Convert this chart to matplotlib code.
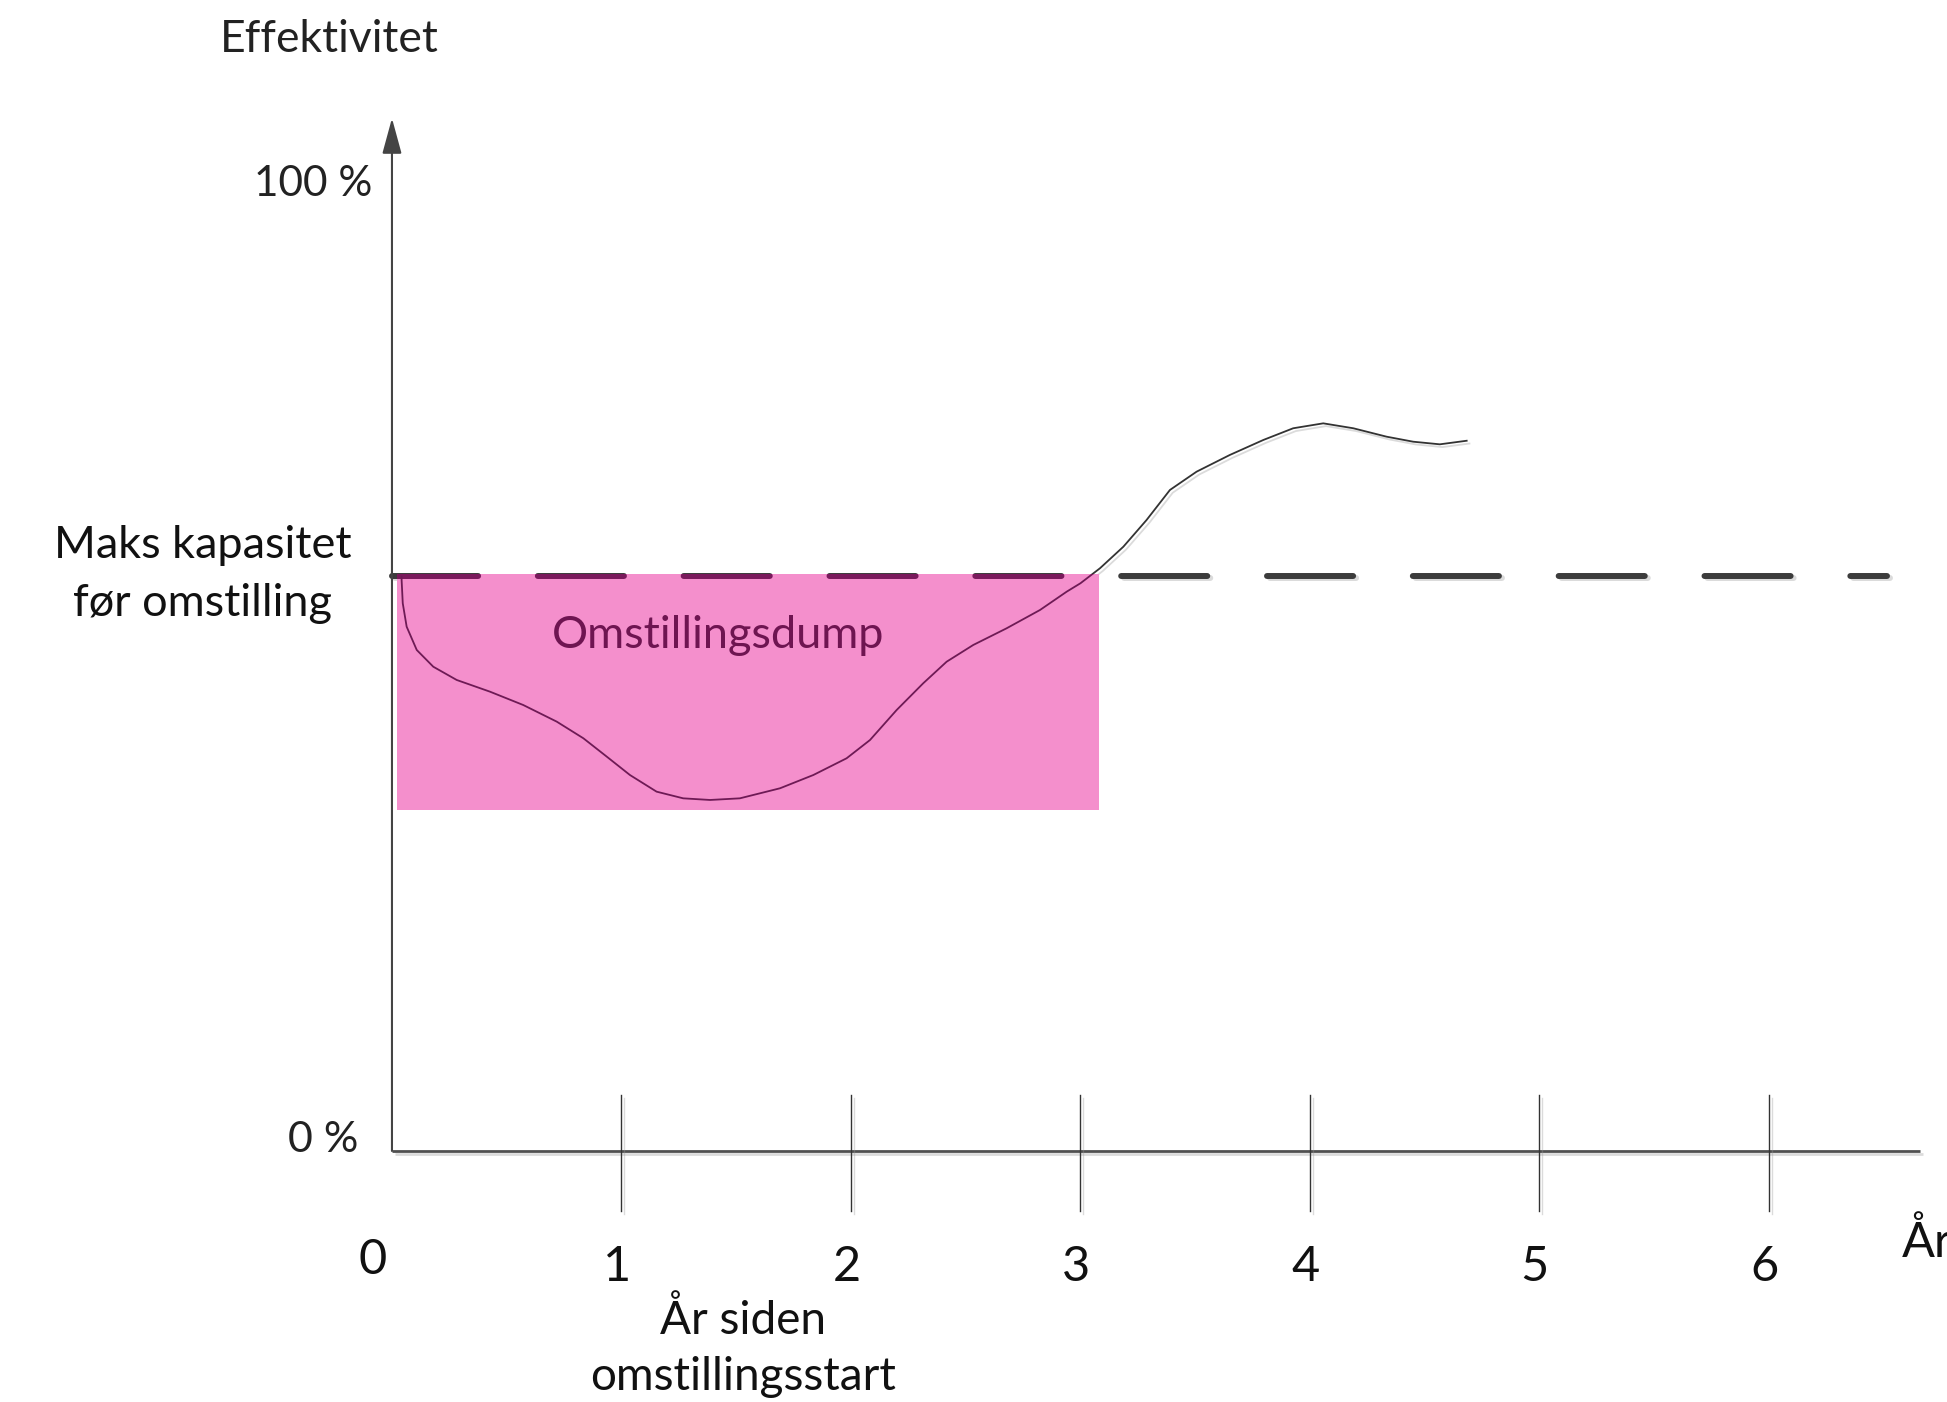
import numpy as np
import matplotlib
matplotlib.use("Agg")
import matplotlib.pyplot as plt
import matplotlib.patheffects as pe
from matplotlib.patches import Rectangle

plt.rcParams['font.family'] = ['Lato', 'DejaVu Sans']
plt.rcParams['lines.scale_dashes'] = False

# data (x = years since start, y = efficiency in %)
years = [1, 2, 3, 4, 5, 6]
year_labels = ['1', '2', '3', '4', '5', '6']
max_capacity = 59.5
dump_x = (0.02, 3.08)
dump_y = (35.3, 59.7)

curve_x = [0.042, 0.042, 0.047, 0.064, 0.108, 0.180, 0.282, 0.427, 0.572, 0.718,
           0.834, 0.936, 1.037, 1.153, 1.269, 1.386, 1.516, 1.661, 1.691, 1.836,
           1.981, 2.083, 2.199, 2.315, 2.417, 2.533, 2.678, 2.824, 2.940, 3.000,
           3.085, 3.187, 3.288, 3.390, 3.506, 3.651, 3.797, 3.927, 4.058, 4.189,
           4.334, 4.450, 4.566, 4.683]
curve_y = [59.4, 59.05, 56.64, 54.22, 51.81, 50.08, 48.71, 47.50, 46.12, 44.40,
           42.68, 40.78, 38.88, 37.16, 36.47, 36.30, 36.47, 37.33, 37.51, 38.88,
           40.61, 42.50, 45.60, 48.37, 50.60, 52.33, 54.05, 55.95, 57.84, 58.71,
           60.26, 62.49, 65.25, 68.36, 70.25, 71.98, 73.53, 74.74, 75.25, 74.74,
           73.87, 73.35, 73.08, 73.45]

fig = plt.figure(figsize=(19.47, 14.02), dpi=100)
ax = fig.add_axes([0, 0, 1, 1])
ax.set_xlim(-1.708, 6.776)
ax.set_ylim(-25.96, 119.03)
ax.axis('off')

shadow = [pe.SimpleLineShadow(offset=(2, -2), shadow_color='#999999', alpha=0.35), pe.Normal()]

# axes
ax.annotate('', xy=(0, 106.8), xytext=(0, 0),
            arrowprops=dict(arrowstyle='-|>,head_length=1.1,head_width=0.3',
                            mutation_scale=20, lw=1.5, color='#444444',
                            shrinkA=0, shrinkB=0))
ax.plot([0, 6.66], [0, 0], color='#505050', lw=2.0, solid_capstyle='butt',
        path_effects=shadow, zorder=2)
for x in years:
    ax.plot([x, x], [5.8, -6.2], color='#333333', lw=1.0, path_effects=shadow, zorder=2)

# max capacity dashed line and the curve
dash_style = (0, (62, 43))
ax.plot([0, 6.514], [max_capacity, max_capacity], color='#3c3c3c', lw=4.3,
        ls=dash_style, dash_capstyle='round', path_effects=shadow, zorder=2)
ax.plot(curve_x, curve_y, color='#333333', lw=1.3, solid_joinstyle='round',
        path_effects=shadow, zorder=2)

rect = Rectangle((dump_x[0], dump_y[0]), dump_x[1] - dump_x[0], dump_y[1] - dump_y[0],
                 facecolor='#f48fcc', edgecolor='none', zorder=3)
ax.add_patch(rect)

# same lines, tinted where they sit under the pink box
l1, = ax.plot([0, 6.514], [max_capacity, max_capacity], color='#7a1a5c', lw=4.3,
              ls=dash_style, dash_capstyle='round', zorder=4)
l2, = ax.plot(curve_x, curve_y, color='#6e1a55', lw=1.3, solid_joinstyle='round', zorder=4)
l1.set_clip_path(rect)
l2.set_clip_path(rect)

ax.text(1.42, 53.3, 'Omstillingsdump', color='#6e1551', fontsize=32.5,
        ha='center', va='center', zorder=5)

# labels
ax.text(-0.275, 114.9, 'Effektivitet', fontsize=32, color='#222222', ha='center', va='center')
ax.text(-0.087, 100, '100 %', fontsize=30.5, color='#222222', ha='right', va='center')
ax.text(-0.148, 1.1, '0 %', fontsize=31, color='#222222', ha='right', va='center')
ax.text(-0.824, 59.6, 'Maks kapasitet\nfør omstilling', fontsize=32.5, color='#111111',
        ha='center', va='center', linespacing=1.5)
ax.text(-0.085, -11.3, '0', fontsize=35, color='#111111', ha='center', va='center')
for x, lab in zip(years, year_labels):
    ax.text(x - 0.02, -12.0, lab, fontsize=35, color='#111111', ha='center', va='center')
ax.text(6.58, -9.4, 'År', fontsize=35, color='#111111', ha='left', va='center')
ax.text(1.53, -20.4, 'År siden\nomstillingsstart', fontsize=33, color='#111111',
        ha='center', va='center', linespacing=1.4)

fig.savefig('out.png', dpi=100)
